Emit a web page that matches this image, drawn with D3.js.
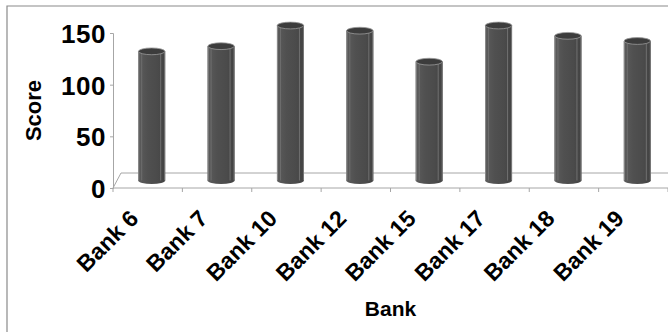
<!DOCTYPE html>
<html>
<head>
<meta charset="utf-8">
<script src="https://cdn.jsdelivr.net/npm/d3@7"></script>
<style>
  body { margin: 0; background: #fff; }
  text { font-family: "Liberation Sans", Arial, sans-serif; font-weight: bold; fill: #000; }
</style>
</head>
<body>
<div id="chart"></div>
<script>
// chart values
const banks = ["Bank 6", "Bank 7", "Bank 10", "Bank 12", "Bank 15", "Bank 17", "Bank 18", "Bank 19"];
const scores = [125, 130, 150, 145, 115, 150, 140, 135];
const yTicks = [0, 50, 100, 150];

const width = 668, height = 332;
const plot = {left: 113, right: 668, top: 33, bottom: 188};
// 3d floor depth (back edge offset), bars sit half way in
const depth = {dx: 8, dy: -15};

let svg = d3.select("#chart")
    .append("svg")
    .attr("width", width)
    .attr("height", height);

let defs = svg.append("defs");
let grad = defs.append("linearGradient")
    .attr("id", "cyl")
    .attr("x1", "0%").attr("x2", "100%")
    .attr("y1", "0%").attr("y2", "0%");
grad.append("stop").attr("offset", "0%").attr("stop-color", "#5c5c5c");
grad.append("stop").attr("offset", "35%").attr("stop-color", "#505050");
grad.append("stop").attr("offset", "70%").attr("stop-color", "#4b4b4b");
grad.append("stop").attr("offset", "100%").attr("stop-color", "#424242");

// outer frame (top + left visible)
svg.append("path")
    .attr("d", `M7,${height} L7,6 L${width},6`)
    .attr("fill", "none")
    .attr("stroke", "#8a8a8a")
    .attr("stroke-width", 1.2);

let x = d3.scaleBand()
    .domain(banks)
    .range([plot.left, plot.right])
    .paddingInner(0)
    .paddingOuter(0);

let y = d3.scaleLinear()
    .domain([0, 150])
    .range([plot.bottom, plot.top]);

// floor
svg.append("path")
    .attr("d", `M${plot.right},${plot.bottom + depth.dy} L${plot.left + depth.dx},${plot.bottom + depth.dy} L${plot.left},${plot.bottom}`)
    .attr("fill", "none")
    .attr("stroke", "#a6a6a6")
    .attr("stroke-width", 1);

// y axis
let yAxis = svg.append("g")
    .attr("transform", `translate(${plot.left},0)`)
    .call(d3.axisLeft(y).tickValues(yTicks).tickSize(3).tickPadding(4).tickFormat(d3.format("d")));
yAxis.select(".domain").attr("stroke", "#a6a6a6");
yAxis.selectAll(".tick line").attr("stroke", "#a6a6a6");
yAxis.selectAll("text")
    .style("font-size", "26px")
    .style("letter-spacing", "0.5px")
    .attr("dy", "0.36em");

// x axis (front edge of floor)
let xAxis = svg.append("g")
    .attr("transform", `translate(0,${plot.bottom})`)
    .call(d3.axisBottom(x).tickSize(0).tickPadding(0));
xAxis.select(".domain").attr("stroke", "#a6a6a6").attr("d", `M${plot.left},0H${plot.right}`);
xAxis.selectAll("text")
    .attr("x", 0).attr("y", 0).attr("dy", 0)
    .attr("transform", "translate(-8,32) rotate(-45)")
    .style("text-anchor", "end")
    .style("font-size", "23px");

// boundary ticks between categories
let bounds = banks.map(d => x(d)).concat([plot.right]);
xAxis.selectAll(".bound")
    .data(bounds)
    .enter()
    .append("line")
    .attr("class", "bound")
    .attr("x1", d => d).attr("x2", d => d)
    .attr("y1", 0).attr("y2", 4)
    .attr("stroke", "#a6a6a6");

// cylinders
let bw = 27, ry = 3.4;
let baseY = y(0) + depth.dy / 2;
let bars = svg.append("g").selectAll("g")
    .data(banks.map((b, i) => ({bank: b, score: scores[i]})))
    .enter()
    .append("g")
    .attr("transform", d => `translate(${x(d.bank) + x.bandwidth() / 2 + depth.dx / 2 - bw / 2},0)`);

bars.append("ellipse")
    .attr("cx", bw / 2)
    .attr("cy", baseY)
    .attr("rx", bw / 2)
    .attr("ry", ry)
    .attr("fill", "url(#cyl)");

bars.append("rect")
    .attr("x", 0)
    .attr("y", d => y(d.score) + depth.dy / 2)
    .attr("width", bw)
    .attr("height", d => baseY - (y(d.score) + depth.dy / 2))
    .attr("fill", "url(#cyl)");

// edge highlights
bars.append("line")
    .attr("x1", 0.5).attr("x2", 0.5)
    .attr("y1", d => y(d.score) + depth.dy / 2)
    .attr("y2", baseY)
    .attr("stroke", "#8c8c8c").attr("stroke-width", 1);
bars.append("line")
    .attr("x1", 3.5).attr("x2", 3.5)
    .attr("y1", d => y(d.score) + depth.dy / 2)
    .attr("y2", baseY)
    .attr("stroke", "#6e6e6e").attr("stroke-width", 1);
bars.append("line")
    .attr("x1", bw - 4.5).attr("x2", bw - 4.5)
    .attr("y1", d => y(d.score) + depth.dy / 2)
    .attr("y2", baseY)
    .attr("stroke", "#707070").attr("stroke-width", 1);
bars.append("line")
    .attr("x1", bw - 0.5).attr("x2", bw - 0.5)
    .attr("y1", d => y(d.score) + depth.dy / 2)
    .attr("y2", baseY)
    .attr("stroke", "#7a7a7a").attr("stroke-width", 1);

bars.append("ellipse")
    .attr("cx", bw / 2)
    .attr("cy", d => y(d.score) + depth.dy / 2)
    .attr("rx", bw / 2 - 0.3)
    .attr("ry", ry)
    .attr("fill", "#3c3c3c")
    .attr("stroke", "#9a9a9a")
    .attr("stroke-width", 0.8);

// axis titles
svg.append("text")
    .attr("transform", `translate(${(plot.left + plot.right) / 2},316)`)
    .style("text-anchor", "middle")
    .style("font-size", "21px")
    .text("Bank");

svg.append("text")
    .attr("transform", `translate(41,${(plot.top + plot.bottom) / 2}) rotate(-90)`)
    .style("text-anchor", "middle")
    .style("font-size", "22px")
    .text("Score");
</script>
</body>
</html>
